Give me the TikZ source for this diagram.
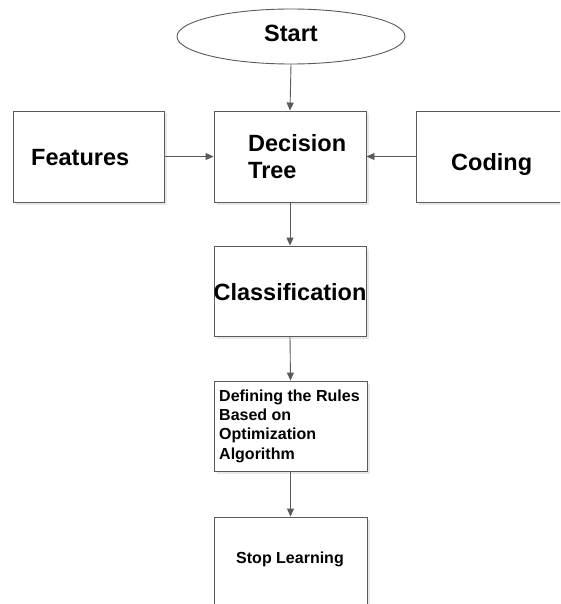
\documentclass[tikz,border=0pt]{standalone}
\usepackage{fontspec}
\setmainfont{Liberation Sans}
\usetikzlibrary{shapes.geometric,arrows.meta,shadows}
\definecolor{linegray}{HTML}{5A5A5A}
\tikzset{
  boxstyle/.style={draw=linegray, line width=0.9pt, fill=white, rectangle, inner sep=0pt,
    drop shadow={opacity=0.18, shadow xshift=2.5pt, shadow yshift=-2.5pt}},
  bigtext/.style={font=\fontsize{23.5}{27}\selectfont\bfseries, inner sep=0pt},
  smalltext/.style={font=\fontsize{16}{19.3}\selectfont\bfseries, inner sep=0pt},
  conn/.style={draw=linegray, line width=0.9pt, -{Triangle[length=8pt,width=7pt]}},
}
\begin{document}
\begin{tikzpicture}[x=1pt,y=-1pt]
\useasboundingbox (0,0) rectangle (560,604);
\clip (0,0) rectangle (560,604);
\fill[white] (0,0) rectangle (560,604);
% shapes
\node[draw=linegray, line width=0.9pt, fill=white, ellipse, minimum width=228pt, minimum height=55pt, inner sep=0pt] (start) at (291,36.5) {};
\node[boxstyle, minimum width=151pt, minimum height=91pt] (feat) at (88.5,156.5) {};
\node[boxstyle, minimum width=152pt, minimum height=91pt] (dt) at (290,156.5) {};
\node[boxstyle, minimum width=152pt, minimum height=91pt] (cod) at (492,156.5) {};
\node[boxstyle, minimum width=152pt, minimum height=90pt] (cls) at (290,291) {};
\node[boxstyle, minimum width=153pt, minimum height=90pt] (def) at (290.5,426) {};
\node[boxstyle, minimum width=153pt, minimum height=92pt] (stop) at (290.5,563) {};
% texts
\node[bigtext] (startt) at (291,33.5) {Start};
\node[bigtext, anchor=base west] (featt) at (31,165) {Features};
\node[bigtext, anchor=base west, align=left] (dtt) at (248,178) {Decision\\Tree};
\node[bigtext, anchor=base west] (codt) at (451,170) {Coding};
\node[bigtext, anchor=base] (clst) at (290,300) {Classification};
\node[smalltext, anchor=base west, align=left] (deft) at (219,459) {Defining the Rules\\Based on\\Optimization\\Algorithm};
\node[smalltext, anchor=base] (stopt) at (290,563) {Stop Learning};
% connectors
\draw[conn] (start.south) -- (dt.north);
\draw[conn] (feat.east) -- (dt.west);
\draw[conn] (cod.west) -- (dt.east);
\draw[conn] (dt.south) -- (cls.north);
\draw[conn] (cls.south) -- (def.north);
\draw[conn] (def.south) -- (stop.north);
\end{tikzpicture}
\end{document}
